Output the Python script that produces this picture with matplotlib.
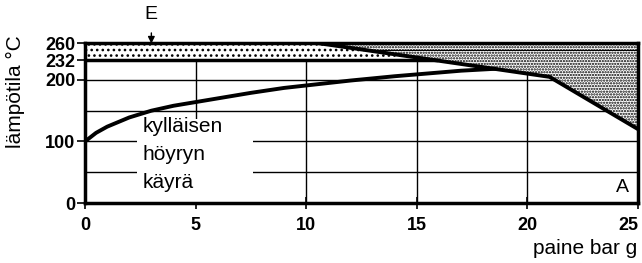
import matplotlib
matplotlib.use('Agg')
import matplotlib.pyplot as plt
from matplotlib.patches import Polygon, Rectangle

plt.rcParams['font.family'] = ['Liberation Sans', 'DejaVu Sans']
plt.rcParams['hatch.linewidth'] = 1.1

# kylläisen höyryn käyrä: paine (bar g) -> lämpötila (°C)
sat_p = [0, 0.5, 1, 2, 3, 4, 5, 6, 7.5, 9, 10, 12, 14, 15, 16, 17, 18.5]
sat_t = [100, 114, 124, 139, 150, 158, 164, 170, 179, 187, 191, 199, 206, 209, 212, 215, 218]

# rajaviiva (tulistusalue oikealla ylhäällä)
lim_p = [10.5, 21, 25]
lim_t = [260, 205, 120]

band_low = 232
band_high = 260
band_mid = 248

xticks = [0, 5, 10, 15, 20, 25]
yticks = [0, 100, 200, 232, 260]
grid_p = [5, 10, 15, 20]
grid_t = [50, 100, 150, 200]
curve_text = ['kylläisen', 'höyryn', 'käyrä']
curve_text_t = [125, 79, 33]

fig = plt.figure(figsize=(6.42, 2.63), dpi=100)
ax = fig.add_axes([0.1324, 0.2281, 0.8614, 0.6084])
ax.set_xlim(0, 25)
ax.set_ylim(0, 260)

# grid
for p in grid_p:
    ax.plot([p, p], [0, 260], color='black', lw=1.0, zorder=1)
for t in grid_t:
    ax.plot([0, 25], [t, t], color='black', lw=1.0, zorder=1)

# where the limit line crosses 232
cross_p = lim_p[0] + (band_high - band_low) * (lim_p[1] - lim_p[0]) / (lim_t[0] - lim_t[1])

# sparse stippled band on the left
band = Polygon([(0, band_low), (0, band_high), (lim_p[0], band_high), (cross_p, band_low)],
               closed=True, facecolor='white', edgecolor='black', linewidth=0,
               hatch='...', zorder=2)
ax.add_patch(band)
# dense stippled area
dense = Polygon([(lim_p[0], lim_t[0]), (lim_p[1], lim_t[1]), (lim_p[2], lim_t[2]), (25, band_high)],
                closed=True, facecolor='white', edgecolor='black', linewidth=0,
                hatch='......', zorder=2)
ax.add_patch(dense)

mid_p = lim_p[0] + (band_high - band_mid) * (lim_p[1] - lim_p[0]) / (lim_t[0] - lim_t[1])
ax.plot([mid_p, 25], [band_mid, band_mid], color='black', lw=0.8, zorder=3)
ax.plot([0, cross_p], [band_low, band_low], color='black', lw=2.5, zorder=4)
ax.plot(lim_p, lim_t, color='black', lw=2.8, zorder=4, solid_capstyle='butt')

# white box behind the curve label
ax.add_patch(Rectangle((2.35, 1), 7.6 - 2.35, 135, facecolor='white', edgecolor='none', zorder=3))
for s, t in zip(curve_text, curve_text_t):
    ax.text(2.6, t, s, fontsize=15, ha='left', va='center', zorder=5)

ax.plot(sat_p, sat_t, color='black', lw=2.8, zorder=4)

ax.text(24.3, 26, 'A', fontsize=14, ha='center', va='center', zorder=5)
ax.annotate('E', xy=(3, 259), xytext=(3, 306), annotation_clip=False,
            fontsize=14, ha='center', va='center',
            arrowprops=dict(arrowstyle='-|>', color='black', lw=1.0,
                            mutation_scale=10, shrinkA=5, shrinkB=0))

for side in ['left', 'right', 'top', 'bottom']:
    ax.spines[side].set_linewidth(2.5)
    ax.spines[side].set_zorder(6)

ax.set_xticks(xticks)
ax.set_yticks(yticks)
ax.tick_params(axis='y', direction='out', length=6, width=1.2, pad=1)
ax.tick_params(axis='x', direction='inout', length=8, width=1.2, pad=6)
for lab in ax.get_xticklabels() + ax.get_yticklabels():
    lab.set_fontweight('bold')
    lab.set_fontsize(13)
ax.get_xticklabels()[-1].set_horizontalalignment('right')

fig.text(15 / 642, 1 - 92 / 263, 'lämpötila °C', rotation=90, fontsize=15,
         ha='center', va='center')
fig.text(637 / 642, 1 - 248 / 263, 'paine bar g', fontsize=15, ha='right', va='center')

fig.savefig('out.png', dpi=100)
